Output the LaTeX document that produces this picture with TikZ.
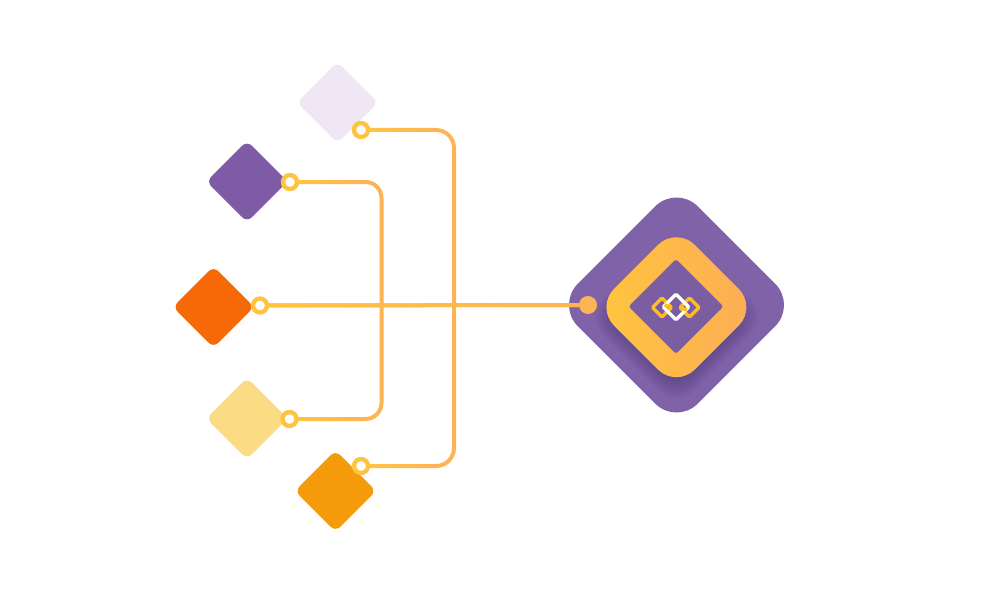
\documentclass[tikz,border=0pt]{standalone}
\usetikzlibrary{calc}
\definecolor{bigpurple}{HTML}{8062A9}
\definecolor{smallpurple}{HTML}{7F5BA6}
\definecolor{palelilac}{HTML}{F0E7F4}
\definecolor{deeporange}{HTML}{F56A07}
\definecolor{paleyellow}{HTML}{FBDB83}
\definecolor{amber}{HTML}{F49B0B}
\definecolor{linea}{HTML}{FFC342}
\definecolor{lineb}{HTML}{FDB455}
\definecolor{ringa}{HTML}{FFC53E}
\definecolor{ringb}{HTML}{FCAC56}
\definecolor{logoyellow}{HTML}{FDBE1E}
\tikzset{
  dia/.style={draw=none,rectangle,rotate=45,inner sep=0pt,minimum size=57.6pt,rounded corners=7pt,fill=#1},
  port/.style={circle,draw=linea,line width=4.4pt,outer sep=0pt,fill=white,inner sep=0pt,minimum size=14pt},
  wire/.style={draw=lineb,line width=4pt,rounded corners=18pt},
  run/.style={line width=4pt},
  shad/.style={draw=none,rectangle,rotate=45,inner sep=0pt,rounded corners=24pt,fill=black,fill opacity=0.012},
  logo/.style={draw=#1,rectangle,rotate=45,inner sep=0pt,outer sep=0pt,line width=3.3pt,rounded corners=1.2pt}
}
\begin{document}
\begin{tikzpicture}[x=1pt,y=-1pt]
\useasboundingbox (0,0) rectangle (985,599);
% big shape
\node[draw=none,rectangle,rotate=45,inner sep=0pt,minimum size=169.6pt,rounded corners=30pt,fill=bigpurple] (big) at (676.5,305) {};
\foreach \s in {104,106,...,130}{
  \node[shad,minimum size=\s pt] (sh\s) at (676.5,317) {};
}
\node[draw=none,rectangle,rotate=45,inner sep=0pt,minimum size=114.2pt,rounded corners=26pt,left color=ringa,right color=ringb] (ring) at (676.4,307.2) {};
\node[draw=none,rectangle,rotate=45,inner sep=0pt,minimum size=67pt,rounded corners=2.5pt,fill=bigpurple!96!black] (hole) at (676,306.5) {};
% logo
\node[logo=logoyellow,minimum size=13.4pt] (ly1) at (662,307.5) {};
\node[logo=logoyellow,minimum size=13.4pt] (ly2) at (689.5,307.5) {};
\node[logo=white,minimum size=18pt] (lw) at (676,307) {};
\draw[logoyellow,line width=3.3pt] ($(ly2.center)!0.55!(ly2.west)$) -- ($(ly2.center)!0.95!(ly2.north west)$);
\draw[logoyellow,line width=3.3pt] ($(ly1.center)!0.55!(ly1.east)$) -- ($(ly1.center)!0.95!(ly1.south east)$);
% small diamonds
\node[dia=palelilac] (d1) at (337.5,102.5) {};
\node[dia=smallpurple] (d2) at (247,181.5) {};
\node[dia=deeporange] (d3) at (213.5,307) {};
\node[dia=paleyellow] (d4) at (247,418.5) {};
\node[dia=amber] (d5) at (335.5,491) {};
% ports
\coordinate (bus1) at (454,300);
\coordinate (bus2) at (381.5,300);
\node[port] (p1) at (361,130) {};
\node[port] (p2) at (290,182) {};
\node[port] (p3) at (260,305.5) {};
\node[port] (p4) at (289.5,419) {};
\node[port] (p5) at (361,466) {};
\node[circle,fill=lineb,inner sep=0pt,minimum size=18pt] (end) at (588,305) {};
% connectors
\draw[wire] (p1) -| (bus1) |- (p5);
\draw[wire,rounded corners=16pt] (p2) -| (bus2) |- (p4);
\draw[wire,rounded corners=0pt] (p3) -- (end);
% colour drift along the horizontal runs
\foreach \n/\r in {p1/436,p2/365,p4/365,p5/436}{
  \foreach \t [evaluate=\t as \c using int(100-\t*10), evaluate=\t as \u using (\t+1)/10, evaluate=\t as \v using \t/10] in {0,...,9}{
    \path (\n.east) ++(0,0) coordinate (st);
    \draw[run,color=linea!\c!lineb] let \p1=(st) in ({\x1+(\r-\x1)*\v},\y1) -- ({\x1+(\r-\x1)*\u},\y1);
  }
}
\foreach \t [evaluate=\t as \c using int(100-\t*6.25), evaluate=\t as \u using (\t+1)/16, evaluate=\t as \v using \t/16] in {0,...,15}{
  \draw[run,color=linea!\c!lineb] ($(p3.east)!\v!(end.west)$) -- ($(p3.east)!\u!(end.west)$);
}
\end{tikzpicture}
\end{document}
